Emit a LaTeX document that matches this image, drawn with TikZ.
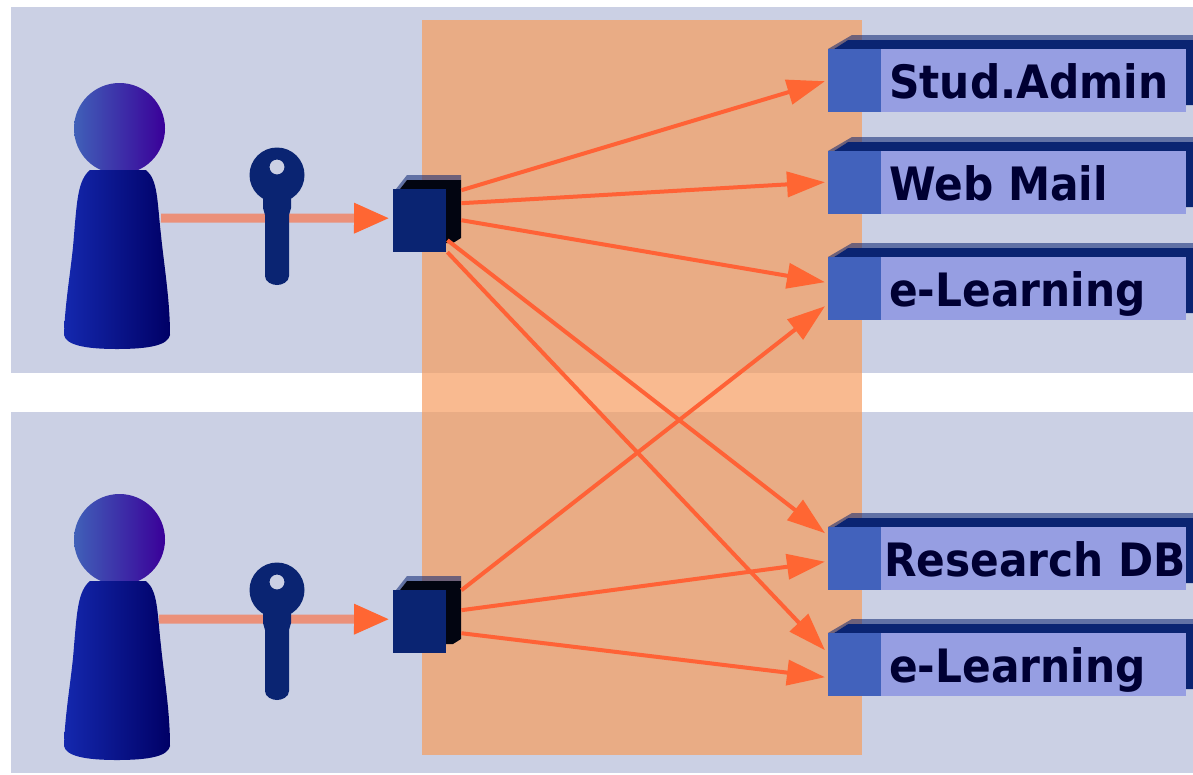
\documentclass[tikz,border=0pt]{standalone}
\usepackage{fontspec}
\usetikzlibrary{arrows.meta}
\newfontfamily\boxfont[FakeStretch=0.92]{DejaVu Sans Bold}
\definecolor{bandc}{HTML}{CBD0E4}
\definecolor{orangec}{HTML}{E9AC85}
\definecolor{gapc}{HTML}{F9BA90}
\definecolor{lightc}{HTML}{969EE2}
\definecolor{tabc}{HTML}{4262BC}
\definecolor{darkc}{HTML}{0A2472}
\definecolor{blackc}{HTML}{000033}
\definecolor{linkc}{HTML}{FF6236}
\definecolor{paleline}{HTML}{EB9079}
\definecolor{headc}{HTML}{FF6633}
\definecolor{HeadL}{HTML}{4060B8}
\definecolor{HeadR}{HTML}{3A0099}
\definecolor{BodyL}{HTML}{1428AE}
\definecolor{BodyM}{HTML}{000870}
\definecolor{BodyR}{HTML}{000066}
\tikzset{
  x=1pt,y=-1pt,
  svcbody/.style={fill=lightc,draw=none,inner sep=0pt,minimum height=63pt,minimum width=358pt,anchor=north west},
  svclabel/.style={inner sep=0pt,anchor=base west,text=blackc,font=\boxfont\fontsize{46}{46}\selectfont},
  cubefront/.style={fill=darkc,draw=none,inner sep=0pt,minimum width=53pt,minimum height=63pt,anchor=north west},
  link/.style={draw=linkc,line width=4pt,-{Triangle[length=38pt,width=25pt,color=headc]}},
  accesslink/.style={draw=paleline,line width=9pt,-{Triangle[length=36pt,width=28pt,color=headc]}},
}
\newcommand{\svcbox}[5]{% name, top, text, text x, baseline offset
  \fill[darkc,opacity=.55] (828,#2) -- (852,#2-14) -- (1193,#2-14) -- (1193,#2-9) -- (848,#2-9) -- (834,#2) -- cycle;
  \fill[darkc] (834,#2) -- (848,#2-9) -- (1193,#2-9) -- (1193,#2+56) -- (1186,#2+56) -- (1186,#2) -- cycle;
  \node[svcbody] (#1) at (828,#2) {};
  \fill[tabc] (828,#2) rectangle (881,#2+63);
  \node[svclabel] at (#4,#2+#5) {#3};
}
\newcommand{\personfig}[1]{%
  \begin{scope}[yshift=-#1pt]
    \shade[left color=HeadL,right color=HeadR] (119.5,128.5) circle[radius=45.5];
    \shade[left color=BodyL,middle color=BodyM,right color=BodyR]
      (90,170) -- (146,170) .. controls (158,180) and (157,200) .. (161,235)
      .. controls (164,265) and (170,300) .. (170,335)
      .. controls (168,345) and (150,349) .. (117,349)
      .. controls (85,349) and (66,345) .. (64,335)
      .. controls (65,300) and (72,265) .. (74,235)
      .. controls (77,200) and (78,180) .. (90,170) -- cycle;
  \end{scope}}
\newcommand{\keyfig}[1]{%
  \begin{scope}[yshift=-#1pt]
    \fill[darkc,even odd rule] (277,175) circle[radius=27.5] (277,167) circle[radius=7.5];
    \fill[darkc] (263,195) -- (291,195) -- (291,208) -- (289,215) -- (289,276) .. controls (289,282) and (282,285) .. (277,285)
      .. controls (272,285) and (265,282) .. (265,276) -- (265,215) -- (263,208) -- cycle;
  \end{scope}}
\newcommand{\cubefig}[2]{% name, top
  \fill[darkc,opacity=.55] (396,#2) -- (407,#2-14) -- (461,#2-14) -- (461,#2-9) -- (407,#2-9) -- (400,#2) -- cycle;
  \fill[black!85!darkc] (400,#2) -- (407,#2-9) -- (461,#2-9) -- (461,#2+49) -- (453,#2+54) -- (446,#2+54) -- cycle;
  \node[cubefront] (#1) at (393,#2) {};
}
\begin{document}
\begin{tikzpicture}
\useasboundingbox (0,0) rectangle (1193,774);
\fill[white] (0,0) rectangle (1193,774);
\fill[bandc] (11,7) rectangle (1193,373);
\fill[bandc] (11,412) rectangle (1193,773);
\fill[orangec] (422,20) rectangle (862,755);
\fill[gapc] (422,373) rectangle (862,412);

\cubefig{cubeA}{189}
\cubefig{cubeB}{590}

\svcbox{stud}{49}{Stud.Admin}{889}{49}
\svcbox{web}{151}{Web Mail}{889}{49}
\svcbox{learnA}{257}{e-Learning}{889}{49}
\svcbox{research}{527}{Research DB}{884}{49}
\svcbox{learnB}{633}{e-Learning}{889}{49}

\coordinate (personA) at (161,218);
\coordinate (personB) at (159,619);
\draw[accesslink] (personA) -- ([yshift=2.5pt,xshift=-3pt]cubeA.west);
\draw[accesslink] (personB) -- ([yshift=2.5pt,xshift=-3pt]cubeB.west);

\draw[link] ([xshift=15pt,yshift=30.5pt]cubeA.east) -- ([xshift=-3pt,yshift=-0.5pt]stud.west);
\draw[link] ([xshift=15pt,yshift=17.5pt]cubeA.east) -- ([xshift=-3pt,yshift=0.5pt]web.west);
\draw[link] ([xshift=15pt,yshift=0.5pt]cubeA.east) -- ([xshift=-3pt,yshift=6.5pt]learnA.west);
\draw[link] ([xshift=1pt,yshift=-19.5pt]cubeA.east) -- ([xshift=-3pt,yshift=25.5pt]research.west);
\draw[link] ([xshift=1pt,yshift=-31.5pt]cubeA.east) -- ([xshift=-3pt,yshift=14.5pt]learnB.west);
\draw[link] ([xshift=15pt,yshift=31.5pt]cubeB.east) -- ([xshift=-3pt,yshift=-17.5pt]learnA.west);
\draw[link] ([xshift=15pt,yshift=11.5pt]cubeB.east) -- ([xshift=-3pt,yshift=-3pt]research.west);
\draw[link] ([xshift=15pt,yshift=-11.5pt]cubeB.east) -- ([xshift=-3pt,yshift=-12.5pt]learnB.west);

\personfig{0}
\personfig{411}
\keyfig{0}
\keyfig{415}
\end{tikzpicture}
\end{document}
